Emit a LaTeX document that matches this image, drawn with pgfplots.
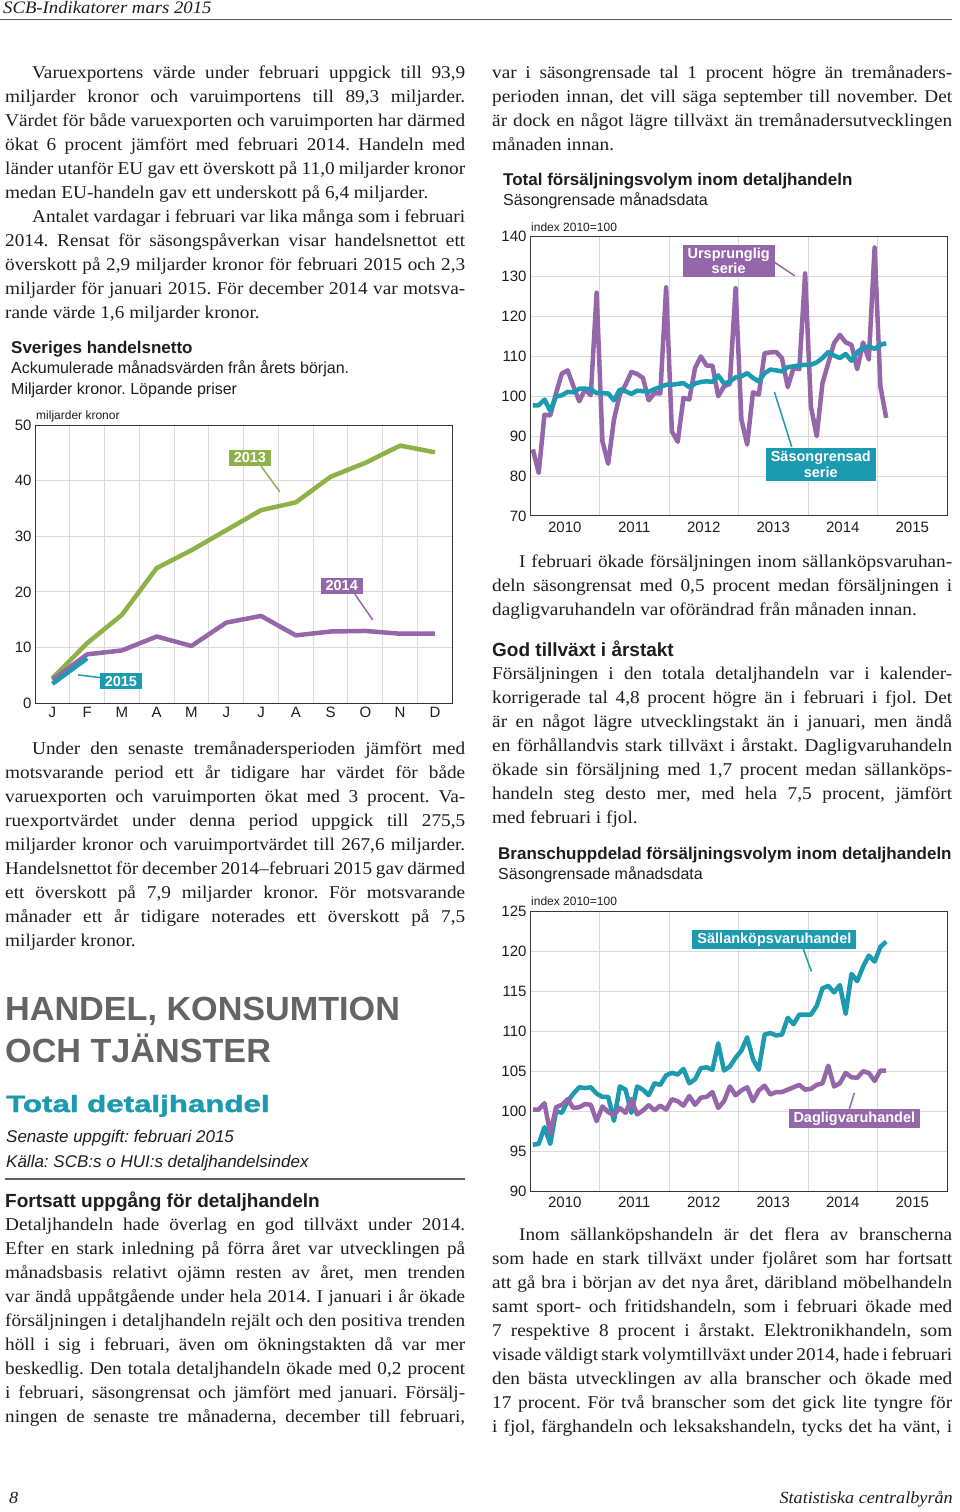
\documentclass[border=0pt]{standalone}
\usepackage{fontspec}
\setmainfont{Liberation Serif}[FakeStretch=1.07]
\setsansfont{Liberation Sans}
\newfontfamily\heavy{Liberation Sans}[BoldFeatures={FakeBold=1.5}]
\usepackage{graphicx}
\usepackage{pgfplots}
\usepackage{pgfplotstable}
\pgfplotsset{compat=1.18}

\definecolor{cpurple}{RGB}{150,102,170}
\definecolor{cteal}{RGB}{27,154,176}
\definecolor{cgreen}{RGB}{142,178,72}
\definecolor{cgrid}{RGB}{218,218,218}
\definecolor{cframe}{RGB}{55,55,55}
\definecolor{ctext}{RGB}{30,30,30}
\definecolor{chead}{RGB}{100,100,100}

\frenchspacing
\newcommand\fs[2]{\fontsize{#1}{#2}\selectfont}
\newcommand\J[1]{\hbox to 460pt{#1}}
\newcommand\N[1]{\hbox{#1}}

% Sveriges handelsnetto: month index, 2013, 2014
\pgfplotstableread{
m y13 y14
0 4.5 4.2
1 10.8 8.8
2 15.9 9.5
3 24.3 12.0
4 27.5 10.3
5 31.1 14.5
6 34.7 15.7
7 36.1 12.2
8 40.7 12.9
9 43.2 13.0
10 46.3 12.5
11 45.1 12.5
}\tabNet
\pgfplotstableread{
m y15
0 3.5
1 8.1
}\tabNetB

% Total foersaeljningsvolym: month index from Jan 2010, original, seasonally adjusted
\pgfplotstableread{
m orig sa
0 86.7 97.75
1 80.8 97.75
2 95.4 99.2
3 95.2 96.3
4 100.8 100.0
5 105.7 100.25
6 106.5 101.1
7 102.5 101.0
8 98.75 101.9
9 101.7 101.9
10 100.25 101.8
11 126.0 100.8
12 88.75 100.8
13 83.1 100.7
14 94.2 99.0
15 100.4 101.7
16 102.9 101.25
17 106.1 100.6
18 105.6 101.4
19 104.6 101.3
20 99.0 101.1
21 100.8 101.8
22 100.7 102.3
23 127.3 102.9
24 91.2 102.9
25 88.6 103.1
26 99.6 103.3
27 99.2 102.3
28 107.1 103.2
29 110.0 103.6
30 107.7 103.75
31 107.7 103.6
32 100.0 105.25
33 102.5 103.2
34 103.1 103.7
35 127.1 104.75
36 94.2 105.0
37 87.9 105.8
38 101.0 104.6
39 100.4 103.75
40 110.8 105.8
41 111.0 106.7
42 111.1 106.5
43 109.6 106.25
44 102.3 107.3
45 107.1 107.5
46 106.8 107.75
47 130.8 107.9
48 97.5 107.9
49 90.0 108.5
50 103.3 109.6
51 108.3 111.1
52 113.3 110.2
53 115.4 109.6
54 113.5 110.6
55 112.9 108.9
56 106.8 111.1
57 113.5 112.1
58 109.2 112.5
59 137.3 111.9
60 102.5 112.9
61 94.6 113.3
}\tabTot

% Branschuppdelad: month index, saellankoep, dagligvaru
\pgfplotstableread{
m sal dag
0 95.8 100.2
1 95.9 100.2
2 98.0 101.0
3 95.9 97.2
4 100.0 100.5
5 99.8 100.8
6 101.25 101.5
7 102.2 100.4
8 103.0 100.5
9 102.9 100.9
10 103.0 100.8
11 102.2 98.75
12 101.8 100.6
13 101.8 99.9
14 98.8 99.5
15 103.1 100.4
16 102.7 99.8
17 99.8 101.5
18 103.1 99.6
19 102.7 100.1
20 102.0 100.75
21 103.5 100.1
22 103.3 100.7
23 104.5 100.2
24 104.8 101.5
25 104.6 101.25
26 105.3 100.7
27 103.5 101.9
28 104.0 100.8
29 105.4 101.7
30 105.5 101.8
31 105.2 102.4
32 108.5 100.4
33 105.1 101.25
34 105.6 103.1
35 106.7 102.0
36 107.6 102.6
37 109.25 103.0
38 106.5 101.25
39 105.2 102.6
40 109.6 103.2
41 109.8 102.1
42 109.5 102.4
43 109.6 102.4
44 111.7 102.7
45 110.9 103.0
46 112.1 103.3
47 112.1 102.7
48 112.1 102.8
49 113.2 103.3
50 115.4 103.5
51 115.7 105.7
52 114.9 103.1
53 115.8 103.5
54 112.2 104.8
55 117.2 104.25
56 116.3 104.2
57 118.1 105.0
58 119.5 104.8
59 118.75 103.8
60 120.6 105.1
61 121.25 105.1
}\tabBr

\pgfplotsset{
  pagechart/.style={
    scale only axis, anchor=north west,
    major tick length=0pt, minor tick length=0pt,
    ymajorgrids, xminorgrids,
    grid style={cgrid, line width=1pt},
    minor grid style={cgrid, line width=1pt},
    axis line style={cframe, line width=1pt},
    tick label style={font=\sffamily\fs{15}{18}, text=ctext},
    /pgf/number format/assume math mode=true,
    clip=false,
  },
  yearx/.style={
    xmin=-0.5, xmax=71.5,
    xtick={5.5,17.5,29.5,41.5,53.5,65.5},
    xticklabels={2010,2011,2012,2013,2014,2015},
    minor xtick={11.5,23.5,35.5,47.5,59.5},
    xticklabel style={yshift=-2pt},
  },
}
\tikzset{boxlab/.style={text=white, font=\sffamily\bfseries\fs{14.5}{15.5}, align=center, inner xsep=5pt, inner ysep=3pt}}

\begin{document}
\begin{tikzpicture}
\useasboundingbox (0pt,0pt) rectangle (960pt,-1512pt);
\fill[white] (0pt,0pt) rectangle (960pt,-1512pt);

% header
\node[anchor=base west, inner sep=0, text=ctext] at (3pt,-13.5pt) {\fs{17.5}{22}\itshape SCB-Indikatorer mars 2015};
\draw[black!65, line width=1.3pt] (0pt,-19.5pt) -- (952pt,-19.5pt);

% left column paragraph 1
\node[anchor=base west, inner sep=0, text=ctext] at (5pt,-78pt) {\fs{18}{24}\vtop{\baselineskip=24pt
\J{\hspace*{27pt}Varuexportens värde under februari uppgick till 93,9}
\J{miljarder kronor och varuimportens till 89,3 miljarder.}
\J{Värdet för både varuexporten och varuimporten har därmed}
\J{ökat 6 procent jämfört med februari 2014. Handeln med}
\J{länder utanför EU gav ett överskott på 11,0 miljarder kronor}
\N{medan EU-handeln gav ett underskott på 6,4 miljarder.}
\J{\hspace*{27pt}Antalet vardagar i februari var lika många som i februari}
\J{2014. Rensat för säsongspåverkan visar handelsnettot ett}
\J{överskott på 2,9 miljarder kronor för februari 2015 och 2,3}
\J{miljarder för januari 2015. För december 2014 var motsva-}
\N{rande värde 1,6 miljarder kronor.}
}};

% chart 1 titles
\node[anchor=base west, inner sep=0, text=ctext] at (11pt,-353pt) {\sffamily\bfseries\fs{17}{20}Sveriges handelsnetto};
\node[anchor=base west, inner sep=0, text=ctext] at (11pt,-373pt) {\sffamily\fs{16}{19}Ackumulerade månadsvärden från årets början.};
\node[anchor=base west, inner sep=0, text=ctext] at (11pt,-394pt) {\sffamily\fs{16}{19}Miljarder kronor. Löpande priser};
\node[anchor=base west, inner sep=0, text=ctext] at (36pt,-419pt) {\sffamily\fs{12}{14}miljarder kronor};

\begin{axis}[pagechart, at={(35pt,-425pt)}, width=417.3pt, height=278.3pt,
  xmin=-0.5, xmax=11.5, ymin=0, ymax=50, ytick={0,10,...,50},
  xtick={0,...,11}, xticklabels={J,F,M,A,M,J,J,A,S,O,N,D},
  minor xtick={0.5,1.5,...,10.5}]
\addplot[cgreen, line width=4.5pt, line join=round] table[x=m, y=y13] {\tabNet};
\addplot[cpurple, line width=4.5pt, line join=round] table[x=m, y=y14] {\tabNet};
\addplot[cteal, line width=4.5pt, line join=round] table[x=m, y=y15] {\tabNetB};
\draw[cgreen, line width=1.5pt] (axis cs:6.0,42.6) -- (axis cs:6.54,38);
\node[fill=cgreen, boxlab] at (axis cs:5.68,44.1) {2013};
\draw[cpurple, line width=1.5pt] (axis cs:8.7,19.6) -- (axis cs:9.21,15);
\node[fill=cpurple, boxlab] at (axis cs:8.32,21.1) {2014};
\draw[cteal, line width=1.5pt] (axis cs:1.4,4.6) -- (axis cs:0.74,5.1);
\node[fill=cteal, boxlab] at (axis cs:1.97,4.0) {2015};
\end{axis}

% left column paragraph 3
\node[anchor=base west, inner sep=0, text=ctext] at (5pt,-754pt) {\fs{18}{24}\vtop{\baselineskip=24pt
\J{\hspace*{27pt}Under den senaste tremånadersperioden jämfört med}
\J{motsvarande period ett år tidigare har värdet för både}
\J{varuexporten och varuimporten ökat med 3 procent. Va-}
\J{ruexportvärdet under denna period uppgick till 275,5}
\J{miljarder kronor och varuimportvärdet till 267,6 miljarder.}
\J{Handelsnettot för december 2014–februari 2015 gav därmed}
\J{ett överskott på 7,9 miljarder kronor. För motsvarande}
\J{månader ett år tidigare noterades ett överskott på 7,5}
\N{miljarder kronor.}
}};

% section heading
\node[anchor=base west, inner sep=0, text=chead] at (5pt,-1020pt) {\scalebox{1.02}[1]{\sffamily\bfseries\fs{33.5}{36}HANDEL, KONSUMTION}};
\node[anchor=base west, inner sep=0, text=chead] at (5pt,-1062pt) {\scalebox{1.02}[1]{\sffamily\bfseries\fs{33.5}{36}OCH TJÄNSTER}};
\node[anchor=base west, inner sep=0, text=cteal] at (6pt,-1112pt) {\scalebox{1.33}[1]{\heavy\bfseries\fs{23.5}{26}Total detaljhandel}};
\node[anchor=base west, inner sep=0, text=ctext] at (6pt,-1142pt) {\sffamily\itshape\fs{17}{20}Senaste uppgift: februari 2015};
\node[anchor=base west, inner sep=0, text=ctext] at (6pt,-1167pt) {\sffamily\itshape\fs{17}{20}Källa: SCB:s o HUI:s detaljhandelsindex};
\draw[black!60, line width=2pt] (5pt,-1179pt) -- (465pt,-1179pt);
\node[anchor=base west, inner sep=0, text=ctext] at (5pt,-1207pt) {\sffamily\bfseries\fs{19}{22}Fortsatt uppgång för detaljhandeln};

% left column paragraph 4
\node[anchor=base west, inner sep=0, text=ctext] at (5pt,-1230pt) {\fs{18}{24}\vtop{\baselineskip=24pt
\J{Detaljhandeln hade överlag en god tillväxt under 2014.}
\J{Efter en stark inledning på förra året var utvecklingen på}
\J{månadsbasis relativt ojämn resten av året, men trenden}
\J{var ändå uppåtgående under hela 2014. I januari i år ökade}
\J{försäljningen i detaljhandeln rejält och den positiva trenden}
\J{höll i sig i februari, även om ökningstakten då var mer}
\J{beskedlig. Den totala detaljhandeln ökade med 0,2 procent}
\J{i februari, säsongrensat och jämfört med januari. Försälj-}
\J{ningen de senaste tre månaderna, december till februari,}
}};

% right column paragraph 1
\node[anchor=base west, inner sep=0, text=ctext] at (492pt,-78pt) {\fs{18}{24}\vtop{\baselineskip=24pt
\J{var i säsongrensade tal 1 procent högre än tremånaders-}
\J{perioden innan, det vill säga september till november. Det}
\J{är dock en något lägre tillväxt än tremånadersutvecklingen}
\N{månaden innan.}
}};

% chart 2
\node[anchor=base west, inner sep=0, text=ctext] at (503pt,-185pt) {\sffamily\bfseries\fs{17}{20}Total försäljningsvolym inom detaljhandeln};
\node[anchor=base west, inner sep=0, text=ctext] at (503pt,-205pt) {\sffamily\fs{16}{19}Säsongrensade månadsdata};
\node[anchor=base west, inner sep=0, text=ctext] at (531pt,-231pt) {\sffamily\fs{12}{14}index 2010=100};

\begin{axis}[pagechart, yearx, at={(530pt,-236.7pt)}, width=417pt, height=279.3pt,
  ymin=70, ymax=140, ytick={70,80,...,140}]
\addplot[cpurple, line width=4.5pt, line join=round] table[x=m, y=orig] {\tabTot};
\addplot[cteal, line width=4.5pt, line join=round] table[x=m, y=sa] {\tabTot};
\draw[cpurple, line width=1.5pt] (axis cs:41.7,133.6) -- (axis cs:45.2,130.2);
\node[fill=cpurple, boxlab] at (axis cs:33.8,133.9) {Ursprunglig\\serie};
\draw[cteal, line width=1.5pt] (axis cs:44.7,87.3) -- (axis cs:41.7,101.1);
\node[fill=cteal, boxlab] at (axis cs:49.7,82.9) {Säsongrensad\\serie};
\end{axis}

% right column paragraph 2
\node[anchor=base west, inner sep=0, text=ctext] at (492pt,-567pt) {\fs{18}{24}\vtop{\baselineskip=24pt
\J{\hspace*{27pt}I februari ökade försäljningen inom sällanköpsvaruhan-}
\J{deln säsongrensat med 0,5 procent medan försäljningen i}
\N{dagligvaruhandeln var oförändrad från månaden innan.}
}};

\node[anchor=base west, inner sep=0, text=ctext] at (492pt,-656pt) {\sffamily\bfseries\fs{19}{22}God tillväxt i årstakt};

% right column paragraph 3
\node[anchor=base west, inner sep=0, text=ctext] at (492pt,-679pt) {\fs{18}{24}\vtop{\baselineskip=24pt
\J{Försäljningen i den totala detaljhandeln var i kalender-}
\J{korrigerade tal 4,8 procent högre än i februari i fjol. Det}
\J{är en något lägre utvecklingstakt än i januari, men ändå}
\J{en förhållandvis stark tillväxt i årstakt. Dagligvaruhandeln}
\J{ökade sin försäljning med 1,7 procent medan sällanköps-}
\J{handeln steg desto mer, med hela 7,5 procent, jämfört}
\N{med februari i fjol.}
}};

% chart 3
\node[anchor=base west, inner sep=0, text=ctext] at (498pt,-859pt) {\sffamily\bfseries\fs{17}{20}Branschuppdelad försäljningsvolym inom detaljhandeln};
\node[anchor=base west, inner sep=0, text=ctext] at (498pt,-879pt) {\sffamily\fs{16}{19}Säsongrensade månadsdata};
\node[anchor=base west, inner sep=0, text=ctext] at (531pt,-905pt) {\sffamily\fs{12}{14}index 2010=100};

\begin{axis}[pagechart, yearx, at={(530pt,-911.7pt)}, width=417pt, height=279.3pt,
  ymin=90, ymax=125, ytick={90,95,...,125}]
\addplot[cteal, line width=4.5pt, line join=round] table[x=m, y=sal] {\tabBr};
\addplot[cpurple, line width=4.5pt, line join=round] table[x=m, y=dag] {\tabBr};
\draw[cteal, line width=1.5pt] (axis cs:46.6,120.5) -- (axis cs:48.1,117.5);
\node[fill=cteal, boxlab] at (axis cs:41.7,121.5) {Sällanköpsvaruhandel};
\draw[cpurple, line width=1.5pt] (axis cs:54.3,99.5) -- (axis cs:55.5,102.3);
\node[fill=cpurple, boxlab] at (axis cs:55.5,99.1) {Dagligvaruhandel};
\end{axis}

% right column paragraph 4
\node[anchor=base west, inner sep=0, text=ctext] at (492pt,-1240pt) {\fs{18}{24}\vtop{\baselineskip=24pt
\J{\hspace*{27pt}Inom sällanköpshandeln är det flera av branscherna}
\J{som hade en stark tillväxt under fjolåret som har fortsatt}
\J{att gå bra i början av det nya året, däribland möbelhandeln}
\J{samt sport- och fritidshandeln, som i februari ökade med}
\J{7 respektive 8 procent i årstakt. Elektronikhandeln, som}
\J{visade väldigt stark volymtillväxt under 2014, hade i februari}
\J{den bästa utvecklingen av alla branscher och ökade med}
\J{17 procent. För två branscher som det gick lite tyngre för}
\J{i fjol, färghandeln och leksakshandeln, tycks det ha vänt, i}
}};

% footer
\node[anchor=base west, inner sep=0, text=ctext] at (9pt,-1503pt) {\fs{17}{22}\itshape 8};
\node[anchor=base east, inner sep=0, text=ctext] at (953pt,-1503pt) {\fs{17}{22}\itshape Statistiska centralbyrån};
\end{tikzpicture}
\end{document}
